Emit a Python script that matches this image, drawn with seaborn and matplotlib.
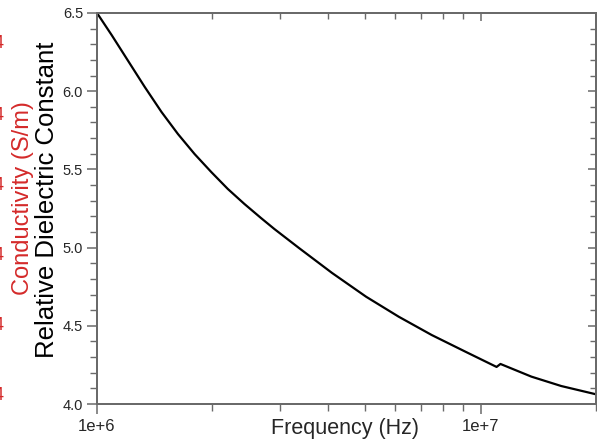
import numpy as np
import pandas as pd
import matplotlib
matplotlib.use("Agg")
import matplotlib.pyplot as plt
import seaborn as sns

# values
freq_hz = [1.0e6, 1.092e6, 1.206e6, 1.332e6, 1.473e6, 1.626e6, 1.797e6,
           1.986e6, 2.193e6, 2.423e6, 2.677e6, 2.90e6, 3.368e6, 4.10e6,
           5.03e6, 6.12e6, 7.46e6, 9.14e6, 1.101e7, 1.127e7, 1.357e7,
           1.623e7, 2.0e7]
rel_eps = [6.50, 6.359, 6.193, 6.027, 5.867, 5.726, 5.598,
           5.483, 5.375, 5.279, 5.189, 5.119, 4.996, 4.838,
           4.686, 4.558, 4.441, 4.334, 4.237, 4.256, 4.175,
           4.115, 4.062]
y_ticks = [4.0, 4.5, 5.0, 5.5, 6.0, 6.5]
x_ticks = [1e6, 1e7]
x_tick_labels = ["1e+6", "1e+7"]
cropped_marks_y = [43, 115, 185, 255, 325, 396]   # red labels of a cut-off axis (px from top)

RED = "#d42a2a"
SPINE = "#6a6a6a"
W, H = 597, 442

sns.set_theme(style="ticks")
plt.rcParams["font.family"] = ["Liberation Sans", "DejaVu Sans"]

df = pd.DataFrame({"freq": freq_hz, "eps": rel_eps})

fig = plt.figure(figsize=(W / 100, H / 100), dpi=100)
ax = fig.add_axes([97 / W, 1 - 404 / H, 499 / W, 391 / H])

sns.lineplot(data=df, x="freq", y="eps", color="black", linewidth=1.6, ax=ax)

ax.set_xscale("log")
ax.set_xlim(1e6, 2e7)
ax.set_ylim(4.0, 6.5)
ax.set_xticks(x_ticks)
ax.set_xticklabels(x_tick_labels)
ax.set_yticks(y_ticks)
ax.set_yticklabels([f"{v:.1f}" for v in y_ticks])
ax.set_yticks(np.arange(4.0, 6.51, 0.1), minor=True)
ax.set_xlabel("Frequency (Hz)", fontsize=15.5)
ax.xaxis.set_label_coords((345 - 97) / 499, (404 - 418) / 391)
ax.set_ylabel("")

for s in ax.spines.values():
    s.set_color(SPINE)
    s.set_linewidth(1.2)
    s.set_visible(True)

ax.tick_params(which="major", direction="out", length=7, width=1.1,
               color=SPINE, labelsize=10.5, pad=3)
ax.tick_params(which="minor", direction="out", length=5, width=1.0, color=SPINE)
ax.tick_params(axis="x", which="major", labelsize=12, pad=4)
ax.tick_params(axis="x", which="minor", labelbottom=False)

# inward ticks on top and right
top = ax.twiny()
top.set_xscale("log")
top.set_xlim(ax.get_xlim())
top.set_xticks(x_ticks)
top.set_xticklabels([])
right = ax.twinx()
right.set_ylim(ax.get_ylim())
right.set_yticks(y_ticks)
right.set_yticks(np.arange(4.0, 6.51, 0.1), minor=True)
right.set_yticklabels([])
for a in (top, right):
    for s in a.spines.values():
        s.set_color(SPINE)
        s.set_linewidth(1.2)
    a.tick_params(which="major", direction="in", length=6, width=1.1, color=SPINE)
    a.tick_params(which="minor", direction="in", length=4, width=1.0, color=SPINE)
top.tick_params(axis="x", which="minor", labeltop=False)

# two-colour y label
fig.text(23 / W, 1 - 198 / H, "Conductivity (S/m)", rotation=90, color=RED,
         fontsize=17, ha="center", va="center")
fig.text(47 / W, 1 - 200 / H, "Relative Dielectric Constant", rotation=90,
         color="black", fontsize=18.5, ha="center", va="center")

# tick labels of the conductivity axis, cut off at the left edge
for py in cropped_marks_y:
    fig.text(4 / W, 1 - py / H, "4", color=RED, fontsize=13,
             ha="right", va="center")

fig.savefig("out.png", dpi=100)
